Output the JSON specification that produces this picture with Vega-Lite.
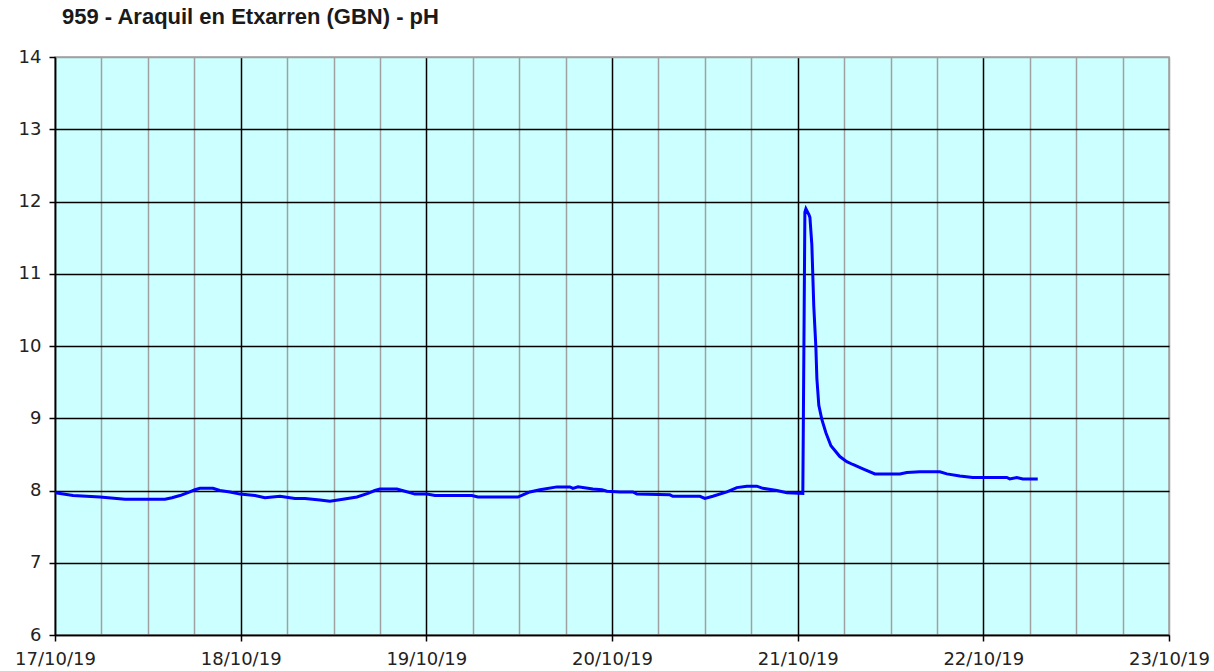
{
  "$schema": "https://vega.github.io/schema/vega-lite/v6.json",
  "autosize": {"type": "none"},
  "width": 1114,
  "height": 578,
  "padding": {"left": 55, "top": 57, "right": 45, "bottom": 36},
  "background": "white",
  "view": {"fill": "#ccffff", "stroke": "#a0a0a0", "strokeWidth": 1.5},
  "title": {
    "text": "959 - Araquil en Etxarren (GBN) - pH",
    "anchor": "start",
    "frame": "group",
    "dx": 7,
    "offset": 19,
    "font": "Liberation Sans",
    "fontSize": 22,
    "fontWeight": "bold",
    "color": "#1a1a1a"
  },
  "data": {
    "values": [
      {"t": "2019-10-17T00:00:00Z", "ph": 7.97},
      {"t": "2019-10-17T02:20:00Z", "ph": 7.93},
      {"t": "2019-10-17T05:49:00Z", "ph": 7.91},
      {"t": "2019-10-17T09:03:00Z", "ph": 7.88},
      {"t": "2019-10-17T14:13:00Z", "ph": 7.88},
      {"t": "2019-10-17T15:07:00Z", "ph": 7.90},
      {"t": "2019-10-17T16:09:00Z", "ph": 7.93},
      {"t": "2019-10-17T17:11:00Z", "ph": 7.97},
      {"t": "2019-10-17T18:05:00Z", "ph": 8.01},
      {"t": "2019-10-17T18:44:00Z", "ph": 8.03},
      {"t": "2019-10-17T20:25:00Z", "ph": 8.03},
      {"t": "2019-10-17T21:19:00Z", "ph": 8.00},
      {"t": "2019-10-17T22:37:00Z", "ph": 7.98},
      {"t": "2019-10-17T23:55:00Z", "ph": 7.95},
      {"t": "2019-10-18T01:51:00Z", "ph": 7.93},
      {"t": "2019-10-18T03:08:00Z", "ph": 7.90},
      {"t": "2019-10-18T05:05:00Z", "ph": 7.92},
      {"t": "2019-10-18T07:01:00Z", "ph": 7.89},
      {"t": "2019-10-18T08:19:00Z", "ph": 7.89},
      {"t": "2019-10-18T10:15:00Z", "ph": 7.87},
      {"t": "2019-10-18T11:32:00Z", "ph": 7.85},
      {"t": "2019-10-18T13:13:00Z", "ph": 7.88},
      {"t": "2019-10-18T15:02:00Z", "ph": 7.91},
      {"t": "2019-10-18T16:27:00Z", "ph": 7.96},
      {"t": "2019-10-18T17:21:00Z", "ph": 8.00},
      {"t": "2019-10-18T18:00:00Z", "ph": 8.02},
      {"t": "2019-10-18T20:12:00Z", "ph": 8.02},
      {"t": "2019-10-18T21:14:00Z", "ph": 7.99},
      {"t": "2019-10-18T22:32:00Z", "ph": 7.95},
      {"t": "2019-10-19T00:05:00Z", "ph": 7.95},
      {"t": "2019-10-19T01:07:00Z", "ph": 7.93},
      {"t": "2019-10-19T05:53:00Z", "ph": 7.93},
      {"t": "2019-10-19T06:40:00Z", "ph": 7.91},
      {"t": "2019-10-19T10:25:00Z", "ph": 7.91},
      {"t": "2019-10-19T11:50:00Z", "ph": 7.91},
      {"t": "2019-10-19T12:29:00Z", "ph": 7.94},
      {"t": "2019-10-19T13:23:00Z", "ph": 7.98},
      {"t": "2019-10-19T14:41:00Z", "ph": 8.01},
      {"t": "2019-10-19T16:53:00Z", "ph": 8.05},
      {"t": "2019-10-19T18:34:00Z", "ph": 8.05},
      {"t": "2019-10-19T18:57:00Z", "ph": 8.03},
      {"t": "2019-10-19T19:36:00Z", "ph": 8.05},
      {"t": "2019-10-19T21:32:00Z", "ph": 8.02},
      {"t": "2019-10-19T22:42:00Z", "ph": 8.01},
      {"t": "2019-10-19T23:21:00Z", "ph": 7.99},
      {"t": "2019-10-20T01:01:00Z", "ph": 7.98},
      {"t": "2019-10-20T02:42:00Z", "ph": 7.98},
      {"t": "2019-10-20T03:13:00Z", "ph": 7.95},
      {"t": "2019-10-20T07:29:00Z", "ph": 7.94},
      {"t": "2019-10-20T07:52:00Z", "ph": 7.92},
      {"t": "2019-10-20T11:22:00Z", "ph": 7.92},
      {"t": "2019-10-20T12:00:00Z", "ph": 7.89},
      {"t": "2019-10-20T13:02:00Z", "ph": 7.92},
      {"t": "2019-10-20T14:51:00Z", "ph": 7.98},
      {"t": "2019-10-20T16:08:00Z", "ph": 8.04},
      {"t": "2019-10-20T17:26:00Z", "ph": 8.06},
      {"t": "2019-10-20T18:43:00Z", "ph": 8.06},
      {"t": "2019-10-20T19:30:00Z", "ph": 8.03},
      {"t": "2019-10-20T21:19:00Z", "ph": 8.00},
      {"t": "2019-10-20T22:36:00Z", "ph": 7.97},
      {"t": "2019-10-21T00:40:00Z", "ph": 7.96},
      {"t": "2019-10-21T00:56:00Z", "ph": 11.85},
      {"t": "2019-10-21T01:04:00Z", "ph": 11.90},
      {"t": "2019-10-21T01:27:00Z", "ph": 11.82},
      {"t": "2019-10-21T01:35:00Z", "ph": 11.78},
      {"t": "2019-10-21T01:50:00Z", "ph": 11.40},
      {"t": "2019-10-21T02:05:00Z", "ph": 10.55},
      {"t": "2019-10-21T02:21:00Z", "ph": 9.99},
      {"t": "2019-10-21T02:29:00Z", "ph": 9.55},
      {"t": "2019-10-21T02:44:00Z", "ph": 9.18},
      {"t": "2019-10-21T03:08:00Z", "ph": 8.98},
      {"t": "2019-10-21T03:39:00Z", "ph": 8.80},
      {"t": "2019-10-21T04:18:00Z", "ph": 8.62},
      {"t": "2019-10-21T05:27:00Z", "ph": 8.47},
      {"t": "2019-10-21T06:21:00Z", "ph": 8.40},
      {"t": "2019-10-21T07:08:00Z", "ph": 8.36},
      {"t": "2019-10-21T08:26:00Z", "ph": 8.30},
      {"t": "2019-10-21T09:59:00Z", "ph": 8.23},
      {"t": "2019-10-21T13:13:00Z", "ph": 8.23},
      {"t": "2019-10-21T14:07:00Z", "ph": 8.25},
      {"t": "2019-10-21T15:47:00Z", "ph": 8.26},
      {"t": "2019-10-21T18:23:00Z", "ph": 8.26},
      {"t": "2019-10-21T19:17:00Z", "ph": 8.23},
      {"t": "2019-10-21T20:58:00Z", "ph": 8.20},
      {"t": "2019-10-21T22:38:00Z", "ph": 8.18},
      {"t": "2019-10-22T03:02:00Z", "ph": 8.18},
      {"t": "2019-10-22T03:25:00Z", "ph": 8.16},
      {"t": "2019-10-22T04:20:00Z", "ph": 8.18},
      {"t": "2019-10-22T05:06:00Z", "ph": 8.16},
      {"t": "2019-10-22T07:02:00Z", "ph": 8.16}
    ]
  },
  "mark": {"type": "line", "color": "#0000ff", "strokeWidth": 3, "interpolate": "linear", "clip": true},
  "encoding": {
    "x": {
      "field": "t",
      "type": "temporal",
      "scale": {"type": "utc", "domain": [{"year": 2019, "month": 10, "date": 17, "utc": true}, {"year": 2019, "month": 10, "date": 23, "utc": true}], "nice": false},
      "axis": {
        "title": null,
        "orient": "bottom",
        "values": [
          {"year": 2019, "month": 10, "date": 17, "hours": 0, "utc": true},
          {"year": 2019, "month": 10, "date": 17, "hours": 6, "utc": true},
          {"year": 2019, "month": 10, "date": 17, "hours": 12, "utc": true},
          {"year": 2019, "month": 10, "date": 17, "hours": 18, "utc": true},
          {"year": 2019, "month": 10, "date": 18, "hours": 0, "utc": true},
          {"year": 2019, "month": 10, "date": 18, "hours": 6, "utc": true},
          {"year": 2019, "month": 10, "date": 18, "hours": 12, "utc": true},
          {"year": 2019, "month": 10, "date": 18, "hours": 18, "utc": true},
          {"year": 2019, "month": 10, "date": 19, "hours": 0, "utc": true},
          {"year": 2019, "month": 10, "date": 19, "hours": 6, "utc": true},
          {"year": 2019, "month": 10, "date": 19, "hours": 12, "utc": true},
          {"year": 2019, "month": 10, "date": 19, "hours": 18, "utc": true},
          {"year": 2019, "month": 10, "date": 20, "hours": 0, "utc": true},
          {"year": 2019, "month": 10, "date": 20, "hours": 6, "utc": true},
          {"year": 2019, "month": 10, "date": 20, "hours": 12, "utc": true},
          {"year": 2019, "month": 10, "date": 20, "hours": 18, "utc": true},
          {"year": 2019, "month": 10, "date": 21, "hours": 0, "utc": true},
          {"year": 2019, "month": 10, "date": 21, "hours": 6, "utc": true},
          {"year": 2019, "month": 10, "date": 21, "hours": 12, "utc": true},
          {"year": 2019, "month": 10, "date": 21, "hours": 18, "utc": true},
          {"year": 2019, "month": 10, "date": 22, "hours": 0, "utc": true},
          {"year": 2019, "month": 10, "date": 22, "hours": 6, "utc": true},
          {"year": 2019, "month": 10, "date": 22, "hours": 12, "utc": true},
          {"year": 2019, "month": 10, "date": 22, "hours": 18, "utc": true},
          {"year": 2019, "month": 10, "date": 23, "hours": 0, "utc": true}
        ],
        "labelExpr": "utchours(datum.value) == 0 ? utcFormat(datum.value, '%d/%m/%y') : ''",
        "labelOverlap": false,
        "labelBound": false,
        "labelFlush": false,
        "labelFont": "DejaVu Sans",
        "labelFontSize": 18,
        "labelColor": "#222222",
        "labelPadding": 9,
        "grid": true,
        "gridWidth": 1.5,
        "gridColor": {"condition": {"test": "utchours(datum.value) == 0 && utcdate(datum.value) != 23", "value": "#000000"}, "value": "#a0a0a0"},
        "domain": true,
        "domainColor": "#000000",
        "domainWidth": 1.5,
        "ticks": true,
        "tickSize": 6,
        "tickWidth": 1.5,
        "tickColor": "#000000",
        "tickOpacity": {"condition": {"test": "utchours(datum.value) == 0", "value": 1}, "value": 0}
      }
    },
    "y": {
      "field": "ph",
      "type": "quantitative",
      "scale": {"domain": [6, 14], "nice": false, "zero": false},
      "axis": {
        "title": null,
        "values": [6, 7, 8, 9, 10, 11, 12, 13, 14],
        "labelFont": "DejaVu Sans",
        "labelFontSize": 18,
        "labelColor": "#222222",
        "labelPadding": 8,
        "grid": true,
        "gridWidth": 1.5,
        "gridColor": {"condition": {"test": "datum.value == 14", "value": "#a0a0a0"}, "value": "#000000"},
        "domain": true,
        "domainColor": "#000000",
        "domainWidth": 1.5,
        "tickSize": 6,
        "tickWidth": 1.5,
        "tickColor": "#000000"
      }
    }
  }
}
